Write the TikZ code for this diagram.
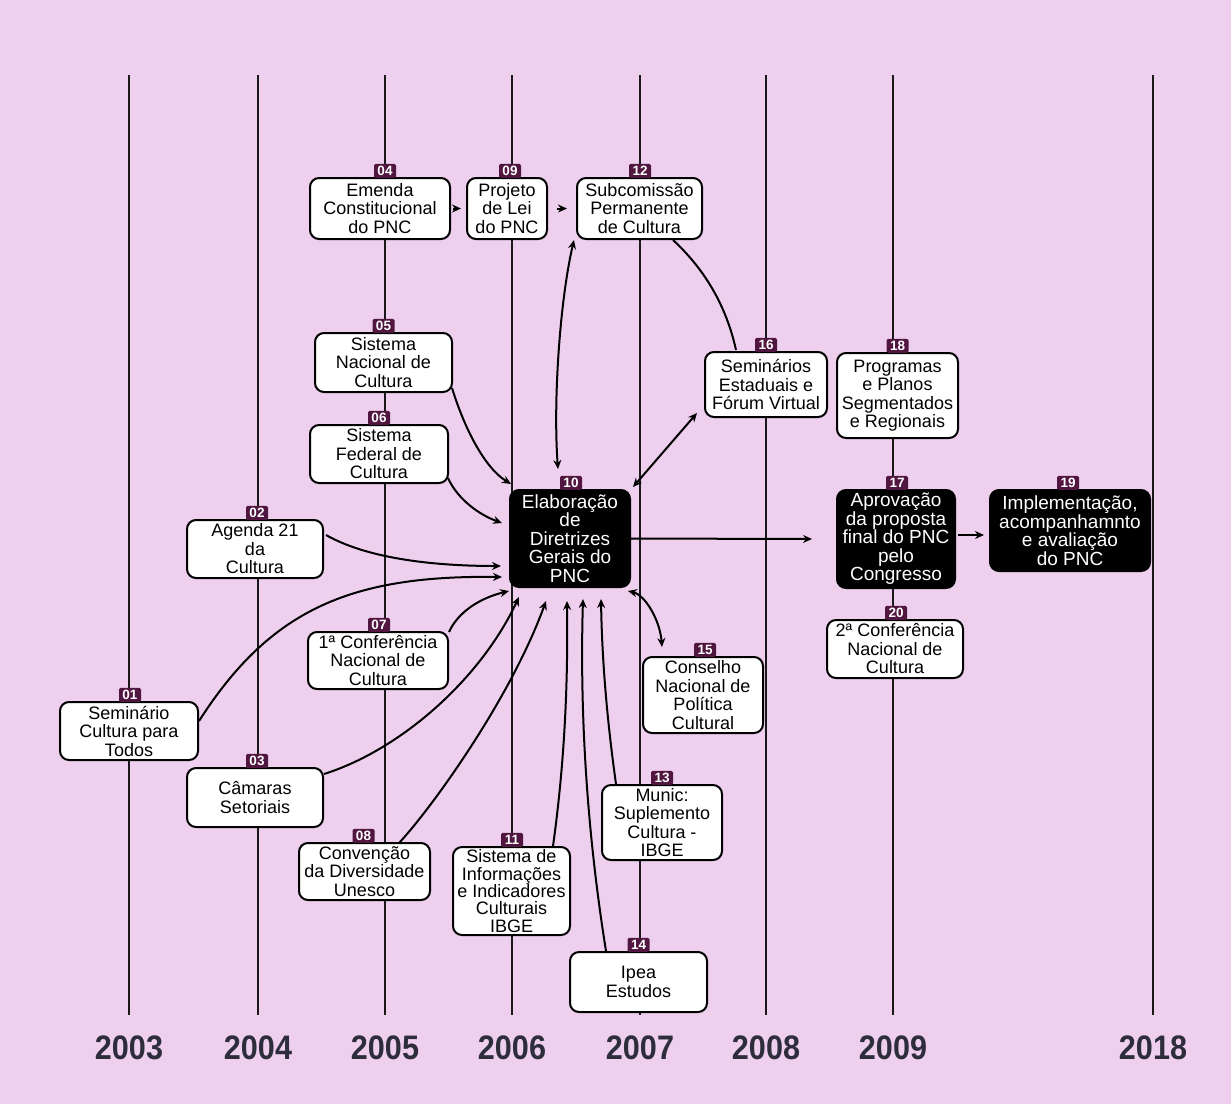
\documentclass[tikz,border=0pt]{standalone}
\usepackage{fontspec}
\setmainfont{Liberation Sans}
\usetikzlibrary{arrows.meta,calc}
\definecolor{bgpink}{RGB}{238,208,238}
\definecolor{badgecol}{RGB}{80,22,64}
\definecolor{yearcol}{RGB}{45,45,60}
\newcommand\yrlab[1]{\scalebox{0.9}[1]{#1}}
\begin{document}
\begin{tikzpicture}[x=1pt,y=-1pt,
  wbox/.style={draw=black, line width=2pt, fill=white, rounded corners=9pt, align=center, inner sep=0pt,
    font=\fontsize{18}{18.5}\selectfont},
  bbox/.style={draw=black, line width=2pt, fill=black, text=white, rounded corners=9pt, align=center, inner sep=0pt,
    font=\fontsize{19}{18.5}\selectfont},
  badge/.style={fill=badgecol, text=white, rounded corners=1.5pt, inner sep=0pt, minimum width=22pt,
    minimum height=14pt, anchor=south, font=\fontsize{13.5}{13.5}\selectfont\bfseries},
  yearline/.style={draw=black!90, line width=2pt},
  yearlabel/.style={text=yearcol, font=\fontsize{34}{34}\selectfont\bfseries},
  conn/.style={draw=black, line width=2pt},
  arr/.style={conn, -{Stealth[length=9pt,width=8pt]}},
  darr/.style={conn, {Stealth[length=9pt,width=8pt]}-{Stealth[length=9pt,width=8pt]}}
]
\fill[bgpink] (0,0) rectangle (1231,1104);
\useasboundingbox (0,0) rectangle (1231,1104);

% year lines and labels
\foreach \xx/\yy in {129/2003,258/2004,385/2005,512/2006,640/2007,766/2008,893/2009,1153/2018}{
  \draw[yearline] (\xx,75) -- (\xx,1015);
  \node[yearlabel] (y\yy) at (\xx,1048) {\yrlab{\yy}};
}

% boxes
\node[wbox, minimum width=140pt, minimum height=61pt] (n04) at (380,208.5) {Emenda\\Constitucional\\do PNC};
\node[wbox, minimum width=80pt, minimum height=61pt] (n09) at (507,208.5) {Projeto\\de Lei\\do PNC};
\node[wbox, minimum width=125pt, minimum height=61pt] (n12) at (639.5,208.5) {Subcomissão\\Permanente\\de Cultura};
\node[wbox, minimum width=137pt, minimum height=59pt] (n05) at (383.5,362.5) {Sistema\\Nacional de\\Cultura};
\node[wbox, minimum width=138pt, minimum height=58pt] (n06) at (379,454) {Sistema\\Federal de\\Cultura};
\node[wbox, minimum width=122pt, minimum height=65pt] (n16) at (766,384.5) {Seminários\\Estaduais e\\Fórum Virtual};
\node[wbox, minimum width=121pt, minimum height=85pt] (n18) at (897.5,395.5) {Programas\\e Planos\\Segmentados\\e Regionais};
\node[wbox, minimum width=136pt, minimum height=58pt] (n02) at (255,549) {Agenda 21\\da\\Cultura};
\node[bbox, minimum width=120pt, minimum height=97pt] (n10) at (570,538.5) {Elaboração\\de\\Diretrizes\\Gerais do\\PNC};
\node[bbox, minimum width=118pt, minimum height=98pt] (n17) at (896,539) {Aprovação\\da proposta\\final do PNC\\pelo\\Congresso};
\node[bbox, minimum width=160pt, minimum height=81pt] (n19) at (1070,530.5) {Implementação,\\acompanhamnto\\e avaliação\\do PNC};
\node[wbox, minimum width=140pt, minimum height=57pt] (n07) at (378,660.5) {1ª Conferência\\Nacional de\\Cultura};
\node[wbox, minimum width=136pt, minimum height=58pt] (n20) at (895,649) {2ª Conferência\\Nacional de\\Cultura};
\node[wbox, minimum width=120pt, minimum height=76pt] (n15) at (703,695) {Conselho\\Nacional de\\Política\\Cultural};
\node[wbox, minimum width=138pt, minimum height=58pt] (n01) at (129,731) {Seminário\\Cultura para\\Todos};
\node[wbox, minimum width=136pt, minimum height=59pt] (n03) at (255,797.5) {Câmaras\\Setoriais};
\node[wbox, minimum width=120pt, minimum height=75pt] (n13) at (662,822.5) {Munic:\\Suplemento\\Cultura -\\IBGE};
\node[wbox, minimum width=131pt, minimum height=57pt] (n08) at (364.5,871.5) {Convenção\\da Diversidade\\Unesco};
\node[wbox, minimum width=117pt, minimum height=88pt, font=\fontsize{18}{17.4}\selectfont] (n11) at (511.5,891) {Sistema de\\Informações\\e Indicadores\\Culturais\\IBGE};
\node[wbox, minimum width=137pt, minimum height=60pt] (n14) at (638.5,982) {Ipea\\Estudos};

% badges
\node[badge] (b04) at ($(n04.north)+(5,1)$) {04};
\node[badge] (b09) at ($(n09.north)+(3,1)$) {09};
\node[badge] (b12) at ($(n12.north)+(0.5,1)$) {12};
\node[badge] (b05) at ($(n05.north)+(0,1)$) {05};
\node[badge] (b06) at ($(n06.north)+(0,1)$) {06};
\node[badge] (b16) at ($(n16.north)+(0,1)$) {16};
\node[badge] (b18) at ($(n18.north)+(0,1)$) {18};
\node[badge] (b02) at ($(n02.north)+(2,1)$) {02};
\node[badge] (b10) at ($(n10.north)+(1,1)$) {10};
\node[badge] (b17) at ($(n17.north)+(1,1)$) {17};
\node[badge] (b19) at ($(n19.north)+(-2,1)$) {19};
\node[badge] (b07) at ($(n07.north)+(1,1)$) {07};
\node[badge] (b20) at ($(n20.north)+(1,1)$) {20};
\node[badge] (b15) at ($(n15.north)+(2,1)$) {15};
\node[badge] (b01) at ($(n01.north)+(1,1)$) {01};
\node[badge] (b03) at ($(n03.north)+(2,1)$) {03};
\node[badge] (b13) at ($(n13.north)+(0,1)$) {13};
\node[badge] (b08) at ($(n08.north)+(-1,1)$) {08};
\node[badge] (b11) at ($(n11.north)+(0.5,1)$) {11};
\node[badge] (b14) at ($(n14.north)+(0,1)$) {14};

% connectors
\draw[arr] ($(n04.east)+(2,0)$) -- ($(n09.west)+(-5,0)$);
\draw[arr] ($(n09.east)+(9,0)$) -- ($(n12.west)+(-9,0)$);
\draw[darr] ($(n12.south west)+(-2,0)$) .. controls (560,300) and (553,400) .. ($(n10.north)+(-12,-20)$);
\draw[conn] ($(n12.south east)+(-30,0)$) .. controls (700,265) and (725,300) .. ($(n16.north west)+(32,-1)$);
\draw[darr] ($(n16.south west)+(-7,-5)$) -- ($(n10.north east)+(2,-2)$);
\draw[arr] ($(n05.south east)+(-1,-5)$) .. controls (465,430) and (485,468) .. ($(n10.north west)+(2,-5)$);
\draw[arr] ($(n06.south east)+(-1,-6)$) .. controls (458,500) and (480,515) .. ($(n10.west)+(-7,-15.5)$);
\draw[arr] ($(n02.east)+(2,-14)$) .. controls (370,560) and (440,566) .. ($(n10.west)+(-8,27.5)$);
\draw[arr] ($(n01.north east)+(0,20)$) .. controls (270,610) and (350,575) .. ($(n10.west)+(-7,38.5)$);
\draw[arr] ($(n07.north east)+(0,1)$) .. controls (458,612) and (480,598) .. ($(n10.south west)+(0,3)$);
\draw[arr] ($(n03.north east)+(0,7)$) .. controls (400,750) and (480,680) .. ($(n10.south west)+(10,9)$);
\draw[arr] ($(n08.north east)+(-32,1)$) .. controls (430,810) and (510,700) .. ($(n10.south west)+(37,13)$);
\draw[arr] ($(n11.north east)+(-18,0)$) .. controls (565,760) and (568,680) .. ($(n10.south west)+(58,13)$);
\draw[arr] ($(n14.north west)+(37,0)$) .. controls (585,820) and (580,700) .. ($(n10.south west)+(74,11)$);
\draw[arr] ($(n13.north west)+(15,0)$) .. controls (607,720) and (602,660) .. ($(n10.south west)+(92,11)$);
\draw[darr] ($(n10.south east)+(-3,3)$) .. controls (645,595) and (660,620) .. ($(n15.north west)+(20,-9)$);
\draw[arr] (n10.east) -- ($(n17.west)+(-24,0)$);
\draw[arr] ($(n17.east)+(2,-4)$) -- ($(n19.west)+(-5,4.5)$);
\end{tikzpicture}
\end{document}
